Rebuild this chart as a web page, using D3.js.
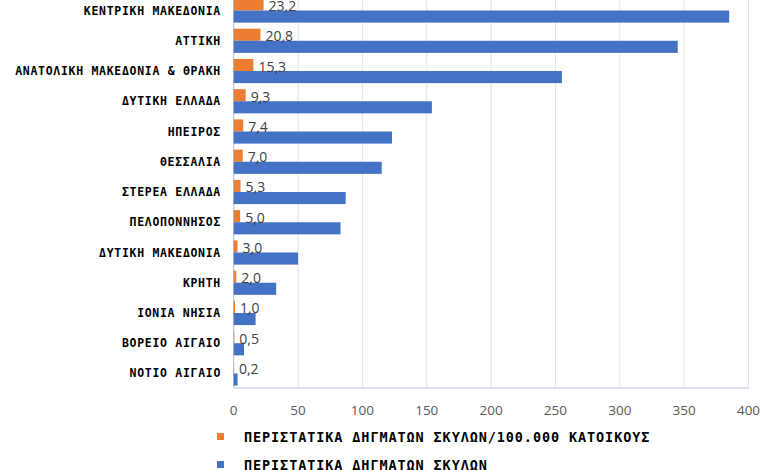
<!DOCTYPE html>
<html>
<head>
<meta charset="utf-8">
<script src="https://cdn.jsdelivr.net/npm/d3@7"></script>
<style>
  body { margin: 0; background: #fff; }
  svg { display: block; }
</style>
</head>
<body>
<div id="chart"></div>
<script>
// regions, top to bottom
var regions = ["ΚΕΝΤΡΙΚΗ ΜΑΚΕΔΟΝΙΑ", "ΑΤΤΙΚΗ", "ΑΝΑΤΟΛΙΚΗ ΜΑΚΕΔΟΝΙΑ & ΘΡΑΚΗ", "ΔΥΤΙΚΗ ΕΛΛΑΔΑ",
  "ΗΠΕΙΡΟΣ", "ΘΕΣΣΑΛΙΑ", "ΣΤΕΡΕΑ ΕΛΛΑΔΑ", "ΠΕΛΟΠΟΝΝΗΣΟΣ", "ΔΥΤΙΚΗ ΜΑΚΕΔΟΝΙΑ",
  "ΚΡΗΤΗ", "ΙΟΝΙΑ ΝΗΣΙΑ", "ΒΟΡΕΙΟ ΑΙΓΑΙΟ", "ΝΟΤΙΟ ΑΙΓΑΙΟ"];
// per 100.000 inhabitants (orange)
var rate = [23.2, 20.8, 15.3, 9.3, 7.4, 7.0, 5.3, 5.0, 3.0, 2.0, 1.0, 0.5, 0.2];
// total incidents (blue)
var cases = [385, 345, 255, 154, 123, 115, 87, 83, 50, 33, 17, 8, 3];
var xTicks = [0, 50, 100, 150, 200, 250, 300, 350, 400];
var seriesNames = ["ΠΕΡΙΣΤΑΤΙΚΑ ΔΗΓΜΑΤΩΝ ΣΚΥΛΩΝ/100.000 ΚΑΤΟΙΚΟΥΣ", "ΠΕΡΙΣΤΑΤΙΚΑ ΔΗΓΜΑΤΩΝ ΣΚΥΛΩΝ"];
var colors = ["#ED7D31", "#4472C4"];

var W = 780, H = 470;
var x0 = 233.7, x1 = 748.5, yTop = -4.6, yBot = 388.6;

var svg = d3.select("#chart").append("svg")
  .attr("width", W)
  .attr("height", H);

var x = d3.scaleLinear().domain([0, 400]).range([x0, x1]);
var y = d3.scaleBand().domain(regions).range([yTop, yBot]);
var yInner = d3.scaleBand().domain([0, 1]).range([0, y.bandwidth()]).paddingOuter(0.25);

// gridlines
svg.append("g").selectAll("line")
  .data(xTicks.slice(1))
  .join("line")
  .attr("x1", d => x(d)).attr("x2", d => x(d))
  .attr("y1", 0).attr("y2", 388)
  .attr("stroke", "#dfe3ea")
  .attr("stroke-width", 1);

// bottom + left frame
svg.append("line")
  .attr("x1", x(0)).attr("x2", x(400))
  .attr("y1", 388).attr("y2", 388)
  .attr("stroke", "#b8c6dc");
svg.append("line")
  .attr("x1", x(0)).attr("x2", x(0))
  .attr("y1", 0).attr("y2", 388)
  .attr("stroke", "#a9bddc");

// tick labels
svg.append("g").selectAll("text")
  .data(xTicks)
  .join("text")
  .attr("x", d => x(d))
  .attr("y", 410)
  .attr("dy", "0.35em")
  .attr("text-anchor", "middle")
  .attr("font-family", "'Open Sans', sans-serif")
  .attr("font-size", 13.5)
  .attr("fill", "#595959")
  .text(d => d);

// bars
var rows = svg.append("g").selectAll("g")
  .data(regions)
  .join("g")
  .attr("transform", d => "translate(0," + y(d) + ")");

rows.append("rect")
  .attr("x", x(0))
  .attr("y", yInner(0))
  .attr("width", (d, i) => x(rate[i]) - x(0))
  .attr("height", yInner.bandwidth())
  .attr("fill", colors[0]);

rows.append("rect")
  .attr("x", x(0))
  .attr("y", yInner(1))
  .attr("width", (d, i) => x(cases[i]) - x(0))
  .attr("height", yInner.bandwidth())
  .attr("fill", colors[1]);

// value labels for the orange series
rows.append("text")
  .attr("x", (d, i) => x(rate[i]) + 5)
  .attr("y", yInner(1) + 0.5)
  .attr("font-family", "'Open Sans', sans-serif")
  .attr("font-size", 14)
  .attr("fill", "#404040")
  .text((d, i) => rate[i].toFixed(1).replace(".", ","));

// category labels
rows.append("text")
  .attr("x", 221)
  .attr("y", y.bandwidth() / 2)
  .attr("dy", "0.35em")
  .attr("text-anchor", "end")
  .attr("font-family", "'DejaVu Sans Mono', monospace")
  .attr("font-weight", "bold")
  .attr("font-size", 11.5)
  .attr("letter-spacing", "0.7px")
  .attr("fill", "#000")
  .text(d => d);

// legend
var legend = svg.append("g").selectAll("g")
  .data(seriesNames)
  .join("g")
  .attr("transform", (d, i) => "translate(217," + (437 + i * 28) + ")");

legend.append("rect")
  .attr("x", 0).attr("y", -4)
  .attr("width", 7).attr("height", 7)
  .attr("fill", (d, i) => colors[i]);

legend.append("text")
  .attr("x", 27)
  .attr("dy", "0.35em")
  .attr("font-family", "'DejaVu Sans Mono', monospace")
  .attr("font-weight", "bold")
  .attr("font-size", 13.5)
  .attr("letter-spacing", "0.9px")
  .attr("fill", "#000")
  .text(d => d);
</script>
</body>
</html>
